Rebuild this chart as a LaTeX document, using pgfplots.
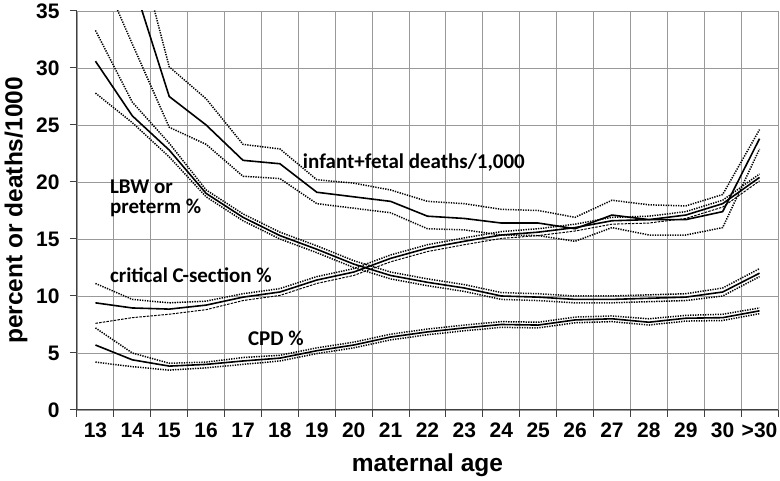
\documentclass[border=0pt]{standalone}
\usepackage{fontspec}
\setmainfont{Liberation Sans}
\newfontfamily\calfont{Carlito}
\usepackage{pgfplots}
\pgfplotsset{compat=1.18}

% index 0..18 = ages 13..30, >30
\pgfplotstableread{
x  inf   infU  infL  lbw   lbwU  lbwL  cs    csU   csL   cpd   cpdU  cpdL
0  44.0  55.0  39.5  30.6  33.3  27.8  9.4   11.1  7.6   5.7   7.2   4.2
1  37.7  42.5  32.1  25.8  27.0  25.2  8.95  9.7   8.1   4.4   5.0   3.8
2  27.5  30.1  24.8  22.8  23.4  22.2  8.85  9.4   8.4   3.85  4.1   3.5
3  25.0  27.3  23.3  19.0  19.3  18.7  9.2   9.55  8.8   4.0   4.2   3.7
4  21.9  23.3  20.5  16.9  17.2  16.6  9.9   10.2  9.6   4.3   4.6   4.0
5  21.6  22.9  20.3  15.3  15.6  15.0  10.35 10.65 10.05 4.55  4.8   4.3
6  19.1  20.2  18.1  14.1  14.4  13.8  11.4  11.7  11.1  5.2   5.45  4.95
7  18.7  19.9  17.7  12.8  13.1  12.5  12.1  12.4  11.8  5.7   5.95  5.45
8  18.3  19.3  17.3  11.8  12.1  11.5  13.3  13.6  13.0  6.4   6.65  6.15
9  17.0  18.3  15.9  11.2  11.5  10.9  14.2  14.5  13.9  6.85  7.1   6.6
10 16.8  18.1  15.8  10.7  11.0  10.4  14.8  15.1  14.5  7.2   7.45  6.95
11 16.4  17.6  15.35 10.0  10.3  9.7   15.35 15.65 15.05 7.5   7.75  7.25
12 16.4  17.5  15.3  9.9   10.2  9.6   15.6  15.9  15.3  7.45  7.7   7.2
13 15.9  16.9  14.8  9.7   10.0  9.4   16.0  16.3  15.7  7.9   8.15  7.65
14 17.1  18.4  16.0  9.7   10.0  9.4   16.6  16.9  16.3  8.0   8.25  7.75
15 16.7  18.0  15.35 9.8   10.1  9.5   16.7  17.0  16.4  7.7   8.0   7.45
16 16.7  17.9  15.35 9.9   10.2  9.6   17.1  17.4  16.8  8.05  8.3   7.8
17 17.4  18.9  16.0  10.35 10.7  10.0  18.1  18.4  17.8  8.1   8.4   7.85
18 23.8  24.6  22.9  12.0  12.4  11.7  20.4  20.7  20.1  8.7   8.95  8.45
}\data

\begin{document}
\begin{tikzpicture}
\begin{axis}[
    scale only axis,
    width=701pt,
    height=399pt,
    xmin=-0.5, xmax=18.5,
    ymin=0, ymax=35,
    axis x line*=bottom,
    axis y line*=left,
    axis line style={black!75, line width=1pt, -},
    xtick={0,...,18},
    xticklabels={13,14,15,16,17,18,19,20,21,22,23,24,25,26,27,28,29,30,>30},
    minor xtick={-0.5,0.5,...,18.5},
    major x tick style={draw=none},
    minor x tick style={black!75, line width=1pt},
    ytick={0,5,...,35},
    ytick style={black!75, line width=1pt},
    tick align=outside,
    major tick length=7pt,
    minor tick length=7pt,
    xmajorgrids=false,
    xminorgrids=true,
    ymajorgrids=true,
    grid style={black!40, line width=0.9pt},
    minor grid style={black!40, line width=0.9pt},
    ticklabel style={font=\fontsize{21}{24}\selectfont\bfseries},
    yticklabel style={xshift=-7pt},
    xticklabel style={yshift=-2pt, text height=15pt, text depth=0pt},
    /pgf/number format/assume math mode=true,
    xlabel={maternal age},
    ylabel={percent or deaths/1000},
    label style={font=\fontsize{24.5}{28}\selectfont\bfseries},
    xlabel style={at={(axis description cs:0.5,0)}, anchor=center, yshift=-55pt},
    ylabel style={at={(axis description cs:-0.087,0.5)}, anchor=center, rotate=0},
    solid line/.style={black, line width=1.6pt, no markers},
    ci line/.style={black, line width=1.5pt, dash pattern=on 1.3pt off 1.2pt, no markers},
    clip=true,
]
\addplot[ci line] table[x=x, y=infU] {\data};
\addplot[ci line] table[x=x, y=infL] {\data};
\addplot[solid line] table[x=x, y=inf] {\data};

\addplot[ci line] table[x=x, y=lbwU] {\data};
\addplot[ci line] table[x=x, y=lbwL] {\data};
\addplot[solid line] table[x=x, y=lbw] {\data};

\addplot[ci line] table[x=x, y=csU] {\data};
\addplot[black, line width=1pt, dash pattern=on 2.5pt off 1.2pt] table[x=x, y=csL] {\data};
\addplot[solid line] table[x=x, y=cs] {\data};

\addplot[ci line] table[x=x, y=cpdU] {\data};
\addplot[ci line] table[x=x, y=cpdL] {\data};
\addplot[solid line] table[x=x, y=cpd] {\data};

\begin{scope}[every node/.style={font=\calfont\fontsize{21}{24}\selectfont\bfseries, inner sep=0pt, anchor=base west}]
\node at (axis cs:5.62,21.2) {infant+fetal deaths/1,000};
\node at (axis cs:0.39,19.0) {LBW or};
\node at (axis cs:0.39,17.2) {preterm \%};
\node at (axis cs:0.39,11.2) {critical C-section \%};
\node at (axis cs:4.13,5.7) {CPD \%};
\end{scope}
\end{axis}
\pgfresetboundingbox
\path (current axis.south west) ++(-77pt,-71pt) rectangle ++(780pt,481pt);
\end{tikzpicture}
\end{document}
